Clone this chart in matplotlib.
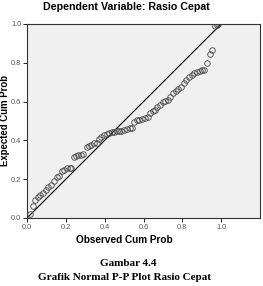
import numpy as np
import matplotlib
matplotlib.use('Agg')
import matplotlib.pyplot as plt

plt.rcParams['font.family'] = ['Liberation Sans', 'DejaVu Sans']

# observed vs expected cumulative probabilities
obs_cum = [0.014, 0.03, 0.042, 0.055, 0.069, 0.083, 0.097, 0.11, 0.124, 0.138,
           0.152, 0.166, 0.179, 0.193, 0.207, 0.219, 0.229, 0.24, 0.252, 0.264,
           0.276, 0.288, 0.307, 0.319, 0.331, 0.345, 0.359, 0.371, 0.383, 0.397,
           0.41, 0.422, 0.436, 0.448, 0.462, 0.474, 0.486, 0.5, 0.514, 0.528,
           0.54, 0.552, 0.566, 0.579, 0.593, 0.607, 0.621, 0.634, 0.647, 0.659,
           0.672, 0.686, 0.698, 0.712, 0.724, 0.737, 0.752, 0.766, 0.78, 0.793,
           0.807, 0.821, 0.834, 0.848, 0.862, 0.876, 0.89, 0.903, 0.914, 0.926,
           0.94, 0.952, 0.966, 0.976, 0.986]
exp_cum = [0.02, 0.06, 0.095, 0.11, 0.12, 0.13, 0.146, 0.16, 0.17, 0.19,
           0.21, 0.214, 0.24, 0.25, 0.257, 0.258, 0.258, 0.314, 0.32, 0.326,
           0.327, 0.328, 0.365, 0.369, 0.377, 0.386, 0.389, 0.406, 0.417, 0.427,
           0.434, 0.437, 0.443, 0.444, 0.446, 0.448, 0.451, 0.454, 0.458, 0.463,
           0.465, 0.496, 0.503, 0.506, 0.509, 0.515, 0.52, 0.54, 0.552, 0.557,
           0.571, 0.583, 0.6, 0.605, 0.609, 0.622, 0.643, 0.656, 0.663, 0.677,
           0.694, 0.711, 0.728, 0.737, 0.746, 0.752, 0.757, 0.763, 0.763, 0.80,
           0.844, 0.866, 0.992, 0.995, 0.998]

ticks = [0.0, 0.2, 0.4, 0.6, 0.8, 1.0]
tick_labels = ['0.0', '0.2', '0.4', '0.6', '0.8', '1.0']

fig = plt.figure(figsize=(2.63, 2.86), dpi=100)
ax = fig.add_axes([27/263, 1-218/286, 233/263, 194/286])
ax.set_facecolor('#f0f0f0')

# reference line
ax.plot([0, 1], [0, 1], color='black', lw=0.8, zorder=2)
ax.plot(obs_cum, exp_cum, 'o', mfc='none', mec='#444444', mew=0.6, ms=4, zorder=3)

ax.set_xlim(0, 1.2)
ax.set_ylim(0, 1.0)
ax.set_xticks(ticks)
ax.set_xticklabels(tick_labels)
ax.set_yticks(ticks)
ax.set_yticklabels(tick_labels)
ax.tick_params(labelsize=5.3, labelcolor='#555555', length=3.2, width=0.6, pad=0.8)
for s in ax.spines.values():
    s.set_linewidth(0.8)
    s.set_color('#333333')

ax.set_xlabel('Observed Cum Prob', fontsize=7.2, fontweight='bold')
ax.xaxis.set_label_coords(0.5/1.2, -0.09)
ax.set_ylabel('Expected Cum Prob', fontsize=6.9, fontweight='bold')
ax.yaxis.set_label_coords(-0.072, 0.5)

fig.text(126/263, 1-7/286, 'Dependent Variable: Rasio Cepat', fontsize=7.7,
         fontweight='bold', ha='center', va='center')
fig.text(128/263, 1-264/286, 'Gambar 4.4', fontsize=8, fontweight='bold',
         family='Liberation Serif', ha='center', va='center')
fig.text(124/263, 1-278/286, 'Grafik Normal P-P Plot Rasio Cepat', fontsize=8,
         fontweight='bold', family='Liberation Serif', ha='center', va='center')

fig.savefig('out.png', dpi=100)
